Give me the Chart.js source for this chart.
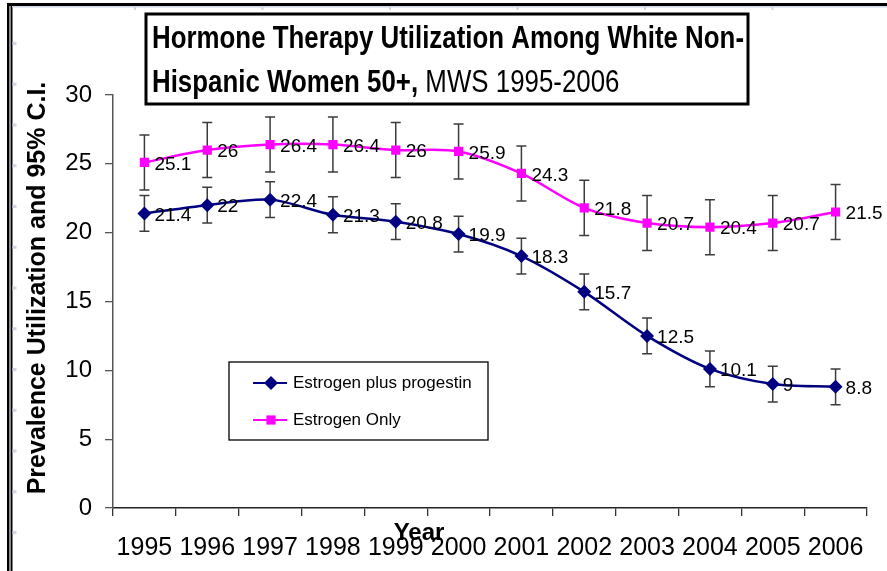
<!DOCTYPE html>
<html>
<head>
<meta charset="utf-8">
<script src="https://cdn.jsdelivr.net/npm/chart.js@4.4.1/dist/chart.umd.min.js"></script>
<style>
  html, body { margin: 0; padding: 0; background: #fff; }
  #wrap { width: 887px; height: 571px; }
</style>
</head>
<body>
<div id="wrap"><canvas id="htChart" width="887" height="571"></canvas></div>
<script>
// --- data ---
const years = ['1995', '1996', '1997', '1998', '1999', '2000', '2001', '2002', '2003', '2004', '2005', '2006'];
const estrogenProgestin = [21.4, 22, 22.4, 21.3, 20.8, 19.9, 18.3, 15.7, 12.5, 10.1, 9, 8.8];
const estrogenOnly = [25.1, 26, 26.4, 26.4, 26, 25.9, 24.3, 21.8, 20.7, 20.4, 20.7, 21.5];
// half width of the 95% C.I. for each point
const epCI = [1.3, 1.3, 1.3, 1.3, 1.3, 1.3, 1.3, 1.3, 1.3, 1.3, 1.3, 1.3];
const eoCI = [2.0, 2.0, 2.0, 2.0, 2.0, 2.0, 2.0, 2.0, 2.0, 2.0, 2.0, 2.0];
const yTicks = [0, 5, 10, 15, 20, 25, 30];

const FONT = '"Liberation Sans", Arial, Helvetica, sans-serif';
const NAVY = '#000080';
const MAGENTA = '#ff00ff';

const drawMarker = (ctx, style, x, y, r, color) => {
    ctx.save();
    ctx.fillStyle = color;
    ctx.beginPath();
    if (style === 'rectRot') {
        ctx.moveTo(x, y - r);
        ctx.lineTo(x + r, y);
        ctx.lineTo(x, y + r);
        ctx.lineTo(x - r, y);
        ctx.closePath();
    } else {
        const s = r * Math.SQRT1_2;
        ctx.rect(x - s, y - s, 2 * s, 2 * s);
    }
    ctx.fill();
    ctx.restore();
};

// --- extras: frame, error bars, value labels, title box, legend ---
const decor = {
    id: 'decor',
    beforeDraw(chart) {
        const ctx = chart.ctx;
        ctx.save();
        ctx.fillStyle = '#fff';
        ctx.fillRect(0, 0, chart.width, chart.height);
        // outer frame (left double rule + top rule)
        ctx.fillStyle = '#000';
        ctx.fillRect(7, 3, chart.width - 7, 3);
        ctx.fillRect(7, 3, 2, chart.height);
        ctx.fillRect(11, 3, 1.5, chart.height);
        ctx.fillStyle = '#8a8a8a';
        ctx.fillRect(9, 6, 2, chart.height);
        ctx.fillStyle = '#cdd6e4';
        ctx.fillRect(12, 6, chart.width - 12, 1.5);
        for (let k = 0; k < 13; k++) ctx.fillRect(12.5, 42 + k * 40.75, 4, 3);
        for (let k = 0; k < 6; k++) ctx.fillRect(134 + k * 127.5, 7, 2, 3);
        ctx.restore();
    },
    beforeDatasetsDraw(chart) {
        const ctx = chart.ctx;
        const xs = chart.scales.x, ys = chart.scales.y;
        const sets = [[estrogenProgestin, epCI], [estrogenOnly, eoCI]];
        ctx.save();
        ctx.strokeStyle = '#3c3c3c';
        ctx.lineWidth = 1.5;
        sets.forEach(([vals, ci]) => {
            vals.forEach((v, i) => {
                const x = xs.getPixelForValue(i);
                const yTop = ys.getPixelForValue(v + ci[i]);
                const yBot = ys.getPixelForValue(v - ci[i]);
                ctx.beginPath();
                ctx.moveTo(x, yTop); ctx.lineTo(x, yBot);
                ctx.moveTo(x - 5, yTop); ctx.lineTo(x + 5, yTop);
                ctx.moveTo(x - 5, yBot); ctx.lineTo(x + 5, yBot);
                ctx.stroke();
            });
        });
        ctx.restore();
    },
    afterDatasetsDraw(chart) {
        const ctx = chart.ctx;
        ctx.save();
        ctx.fillStyle = '#000';
        ctx.font = '19px ' + FONT;
        ctx.textAlign = 'left';
        ctx.textBaseline = 'middle';
        chart.data.datasets.forEach((ds, di) => {
            chart.getDatasetMeta(di).data.forEach((pt, i) => {
                ctx.fillText(String(ds.data[i]), pt.x + 10, pt.y + 2);
            });
        });
        ctx.restore();
    },
    afterDraw(chart) {
        const ctx = chart.ctx;
        ctx.save();

        // title box
        ctx.lineWidth = 3;
        ctx.strokeStyle = '#000';
        ctx.strokeRect(146, 14, 602, 90);
        ctx.fillStyle = '#000';
        ctx.textAlign = 'left';
        ctx.textBaseline = 'alphabetic';
        const line1 = 'Hormone Therapy Utilization Among White Non-';
        ctx.font = 'bold 31px ' + FONT;
        const sx = 592 / ctx.measureText(line1).width;
        ctx.save();
        ctx.translate(152, 48);
        ctx.scale(sx, 1);
        ctx.fillText(line1, 0, 0);
        ctx.restore();
        ctx.save();
        ctx.translate(152, 92);
        ctx.scale(sx, 1);
        const bold2 = 'Hispanic Women 50+,';
        ctx.font = 'bold 31px ' + FONT;
        ctx.fillText(bold2, 0, 0);
        const w2 = ctx.measureText(bold2).width;
        ctx.font = '31px ' + FONT;
        ctx.fillText(' MWS 1995-2006', w2, 0);
        ctx.restore();

        // axis titles
        ctx.font = 'bold 25px ' + FONT;
        ctx.textAlign = 'center';
        ctx.save();
        ctx.translate(45, 288);
        ctx.rotate(-Math.PI / 2);
        ctx.fillText('Prevalence Utilization and 95% C.I.', 0, 0);
        ctx.restore();
        ctx.font = 'bold 24px ' + FONT;
        ctx.fillText('Year', 419, 540);

        // legend
        const lx = 229, ly = 362, lw = 259, lh = 78;
        ctx.fillStyle = '#fff';
        ctx.fillRect(lx, ly, lw, lh);
        ctx.lineWidth = 1.3;
        ctx.strokeStyle = '#000';
        ctx.strokeRect(lx, ly, lw, lh);
        ctx.font = '17px ' + FONT;
        ctx.textAlign = 'left';
        ctx.textBaseline = 'middle';
        chart.data.datasets.forEach((ds, i) => {
            const y = ly + 21 + i * 37;
            ctx.strokeStyle = ds.borderColor;
            ctx.lineWidth = 2;
            ctx.beginPath();
            ctx.moveTo(lx + 24, y);
            ctx.lineTo(lx + 58, y);
            ctx.stroke();
            drawMarker(ctx, ds.pointStyle, lx + 42, y, ds.pointRadius, ds.pointBackgroundColor);
            ctx.fillStyle = '#000';
            ctx.fillText(ds.label, lx + 64, y);
        });
        ctx.restore();
    }
};

const ctx = document.getElementById('htChart').getContext('2d');
new Chart(ctx, {
    type: 'line',
    data: {
        labels: years,
        datasets: [
            {
                label: 'Estrogen plus progestin',
                data: estrogenProgestin,
                borderColor: NAVY,
                backgroundColor: NAVY,
                borderWidth: 2.5,
                pointStyle: 'rectRot',
                pointRadius: 7,
                pointBackgroundColor: NAVY,
                pointBorderColor: NAVY,
                pointBorderWidth: 0,
                tension: 0.3
            },
            {
                label: 'Estrogen Only',
                data: estrogenOnly,
                borderColor: MAGENTA,
                backgroundColor: MAGENTA,
                borderWidth: 2.5,
                pointStyle: 'rect',
                pointRadius: 6.5,
                pointBackgroundColor: MAGENTA,
                pointBorderColor: MAGENTA,
                pointBorderWidth: 0,
                tension: 0.3
            }
        ]
    },
    options: {
        responsive: false,
        animation: false,
        layout: { padding: { top: 95, right: 20, left: 0, bottom: 0 } },
        plugins: {
            legend: { display: false },
            tooltip: { enabled: false },
            title: { display: false }
        },
        scales: {
            x: {
                offset: true,
                grid: { offset: true, drawOnChartArea: false, drawTicks: true, tickLength: 8, color: '#333', lineWidth: 1.3 },
                border: { display: true, color: '#222', width: 1.5 },
                ticks: { color: '#000', font: { family: FONT, size: 25 }, padding: 17, maxRotation: 0, autoSkip: false },
                afterFit: (scale) => { scale.height = 63; }
            },
            y: {
                min: 0,
                max: 30,
                afterBuildTicks: (scale) => { scale.ticks = yTicks.map(v => ({ value: v })); },
                grid: { drawOnChartArea: false, drawTicks: true, tickLength: 8, color: '#555', lineWidth: 1.3 },
                border: { display: true, color: '#555', width: 1.5 },
                ticks: { color: '#000', font: { family: FONT, size: 24 }, padding: 13 },
                afterFit: (scale) => { scale.width = 113; }
            }
        }
    },
    plugins: [decor]
});
</script>
</body>
</html>
